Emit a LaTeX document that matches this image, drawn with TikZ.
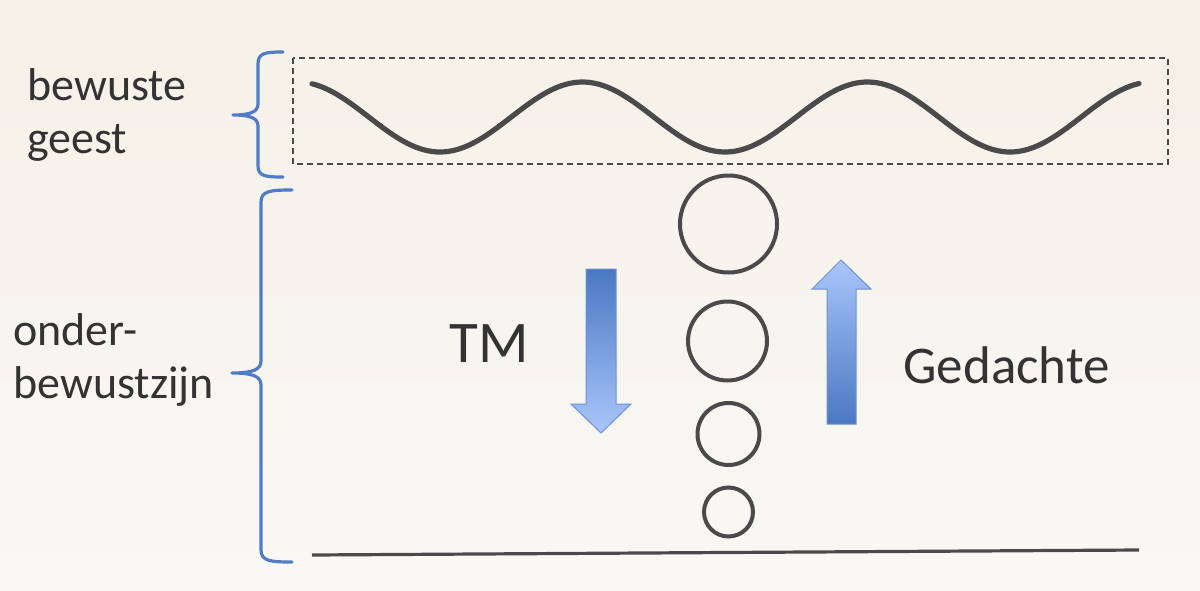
\documentclass[tikz,border=0pt]{standalone}
\usepackage{fontspec}
\setmainfont{Carlito}
\definecolor{txt}{HTML}{333333}
\definecolor{bracecol}{HTML}{4F7CC4}
\definecolor{linecol}{HTML}{4A4A4A}
\definecolor{adark}{HTML}{4A78C2}
\definecolor{alight}{HTML}{A9C6FB}
\definecolor{aedge}{HTML}{6E92CF}
\begin{document}
\begin{tikzpicture}[x=0.5pt,y=-0.5pt,
  lbl/.style={anchor=base west,inner sep=0pt,text=txt,font=\fontsize{23}{27}\selectfont},
  bigl/.style={anchor=base west,inner sep=0pt,text=txt},
  bracestyle/.style={draw=bracecol,line width=1.6pt,line cap=round,line join=round},
  bubble/.style={circle,draw=linecol,line width=2pt,inner sep=0pt},
  blockarrow/.style={draw=aedge,line width=0.5pt,line join=miter}]
% background
\shade[top color={rgb,255:red,245;green,241;blue,232},bottom color={rgb,255:red,249;green,248;blue,245}] (0,0) rectangle (1200,590);
\useasboundingbox (0,0) rectangle (1200,590);
% labels
\node[lbl] (bw) at (27,100) {bewuste};
\node[lbl] (gs) at (27,153) {geest};
\node[lbl] (on) at (13,345) {onder-};
\node[lbl] (bz) at (13,398) {bewustzijn};
\node[bigl,font=\fontsize{29.5}{34}\selectfont] (tm) at (449,362) {TM};
\node[bigl,font=\fontsize{26.5}{31}\selectfont] (gd) at (903,383) {Gedachte};
% braces
\draw[bracestyle] (283,52) .. controls (265,52) and (258,53) .. (258,64) -- (258,104)
  .. controls (258,112) and (250,115) .. (233,115)
  .. controls (250,115) and (258,118) .. (258,126) -- (258,166)
  .. controls (258,176) and (265,177) .. (283,177);
\draw[bracestyle] (292,190) .. controls (270,190) and (261,191) .. (261,202) -- (261,361)
  .. controls (261,370) and (252,373) .. (232,373)
  .. controls (252,373) and (261,376) .. (261,385) -- (261,550)
  .. controls (261,561) and (270,562) .. (292,562);
% dashed box
\draw[linecol,line width=0.6pt,dash pattern=on 3pt off 2pt] (293,58) rectangle (1168,164);
% wave
\draw[linecol,line width=2.6pt,line cap=round,domain=312:1139,samples=200,smooth,variable=\t]
  plot (\t,{117-35*cos((\t-297.5)*1.263158)});
% circles
\node[bubble,minimum size=48.5pt] (c1) at (728.5,224) {};
\node[bubble,minimum size=39.5pt] (c2) at (727.5,341) {};
\node[bubble,minimum size=31pt] (c3) at (728.5,434) {};
\node[bubble,minimum size=24.5pt] (c4) at (728.5,512) {};
% ground line
\coordinate (g1) at (312,555);
\coordinate (g2) at (1139,550);
\draw[linecol,line width=1.6pt] (g1) -- (g2);
% down arrow
\path[blockarrow,top color=adark,bottom color=alight]
  (586,269) -- (616,269) -- (616,404) -- (631,404) -- (601,433) -- (571,404) -- (586,404) -- cycle;
% up arrow
\path[blockarrow,top color=alight,bottom color=adark]
  (841,260) -- (871,289) -- (856,289) -- (856,424) -- (827,424) -- (827,289) -- (812,289) -- cycle;
\end{tikzpicture}
\end{document}
